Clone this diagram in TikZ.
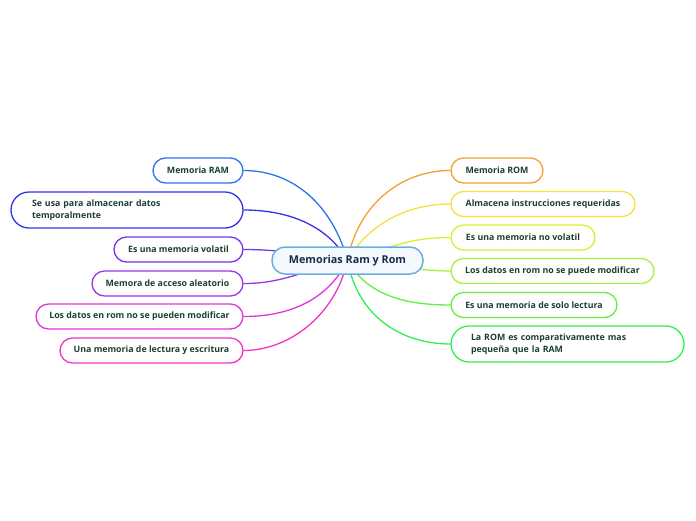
\documentclass[tikz,border=0pt]{standalone}
\usepackage{fontspec}
\setmainfont{Open Sans}
\usetikzlibrary{calc}
\pgfdeclarelayer{bg}
\pgfsetlayers{bg,main}
\definecolor{txt}{HTML}{1C4030}
\definecolor{ctxt}{HTML}{1A2A4A}
\definecolor{cborder}{HTML}{6AAEE0}
\definecolor{cfill}{HTML}{F4F9FD}
\definecolor{cL1}{HTML}{2B74F0}
\definecolor{cL2}{HTML}{3434E6}
\definecolor{cL3}{HTML}{7434F0}
\definecolor{cL4}{HTML}{9A34E8}
\definecolor{cL5}{HTML}{E234DE}
\definecolor{cL6}{HTML}{F034BE}
\definecolor{cR1}{HTML}{F5A030}
\definecolor{cR2}{HTML}{F5E040}
\definecolor{cR3}{HTML}{D5F030}
\definecolor{cR4}{HTML}{A8F040}
\definecolor{cR5}{HTML}{60F040}
\definecolor{cR6}{HTML}{30F050}
\tikzset{
  topic/.style={draw=#1, line width=1.3pt, fill=white, rounded corners=12.5pt,
    minimum height=25pt, inner sep=0pt, font=\bfseries\fontsize{8.8}{10.5}\selectfont,
    text=txt, anchor=center},
  bigtopic/.style={draw=#1, line width=1.3pt, fill=white, rounded corners=18pt,
    minimum height=36pt, inner ysep=0pt, font=\bfseries\fontsize{8.8}{12}\selectfont,
    text=txt, align=left},
  link/.style={draw=#1, line width=1.3pt},
  central/.style={draw=cborder, line width=1.5pt, fill=cfill, rounded corners=13pt,
    minimum width=151pt, minimum height=27pt, inner sep=0pt,
    font=\bfseries\fontsize{10.8}{13}\selectfont, text=ctxt}
}
\begin{document}
\begin{tikzpicture}[x=1pt,y=-1pt]
\useasboundingbox (0,0) rectangle (696,520);
\node[central] (c) at (347.5,260.5) {Memorias Ram y Rom};
% left
\node[topic=cL1, minimum width=90pt] (L1) at (198,170.5) {Memoria RAM};
\node[bigtopic=cL2, text width=190pt, inner xsep=21pt] (L2) at (127,210) {Se usa para almacenar datos\\temporalmente};
\node[topic=cL3, minimum width=129pt] (L3) at (178.5,249.5) {Es una memoria volatil};
\node[topic=cL4, minimum width=151pt] (L4) at (167.5,283.5) {Memora de acceso aleatorio};
\node[topic=cL5, minimum width=207pt] (L5) at (139.5,316.5) {Los datos en rom no se pueden modificar};
\node[topic=cL6, minimum width=183pt] (L6) at (151.5,350.5) {Una memoria de lectura y escritura};
% right
\node[topic=cR1, minimum width=92pt] (R1) at (497,170.5) {Memoria ROM};
\node[topic=cR2, minimum width=184pt] (R2) at (543,204) {Almacena instrucciones requeridas};
\node[topic=cR3, minimum width=144pt] (R3) at (523,237.5) {Es una memoria no volatil};
\node[topic=cR4, minimum width=203pt] (R4) at (552.5,271) {Los datos en rom no se puede modificar};
\node[topic=cR5, minimum width=166pt] (R5) at (534,305) {Es una memoria de solo lectura};
\node[bigtopic=cR6, text width=193pt, inner xsep=20pt] (R6) at (567.5,344) {La ROM es comparativamente mas\\pequeña que la RAM};
\begin{pgfonlayer}{bg}
\draw[link=cL1] (L1.east) .. controls +(50,0) and +(-15,-55) .. (c.center);
\draw[link=cL2] (L2.east) .. controls +(45,0) and +(-20,-35) .. (c.center);
\draw[link=cL3] (L3.east) .. controls +(40,0) and +(-40,-5) .. (c.center);
\draw[link=cL4] (L4.east) .. controls +(40,0) and +(-45,10) .. (c.center);
\draw[link=cL5] (L5.east) .. controls +(45,0) and +(-20,40) .. (c.center);
\draw[link=cL6] (L6.east) .. controls +(45,0) and +(-12,55) .. (c.center);
\draw[link=cR1] (R1.west) .. controls +(-50,0) and +(10,-55) .. (c.center);
\draw[link=cR2] (R2.west) .. controls +(-45,0) and +(20,-35) .. (c.center);
\draw[link=cR3] (R3.west) .. controls +(-40,0) and +(50,-15) .. (c.center);
\draw[link=cR4] (R4.west) .. controls +(-30,0) and +(50,5) .. (c.center);
\draw[link=cR5] (R5.west) .. controls +(-45,0) and +(20,35) .. (c.center);
\draw[link=cR6] (R6.west) .. controls +(-50,0) and +(10,55) .. (c.center);
\end{pgfonlayer}
\end{tikzpicture}
\end{document}
